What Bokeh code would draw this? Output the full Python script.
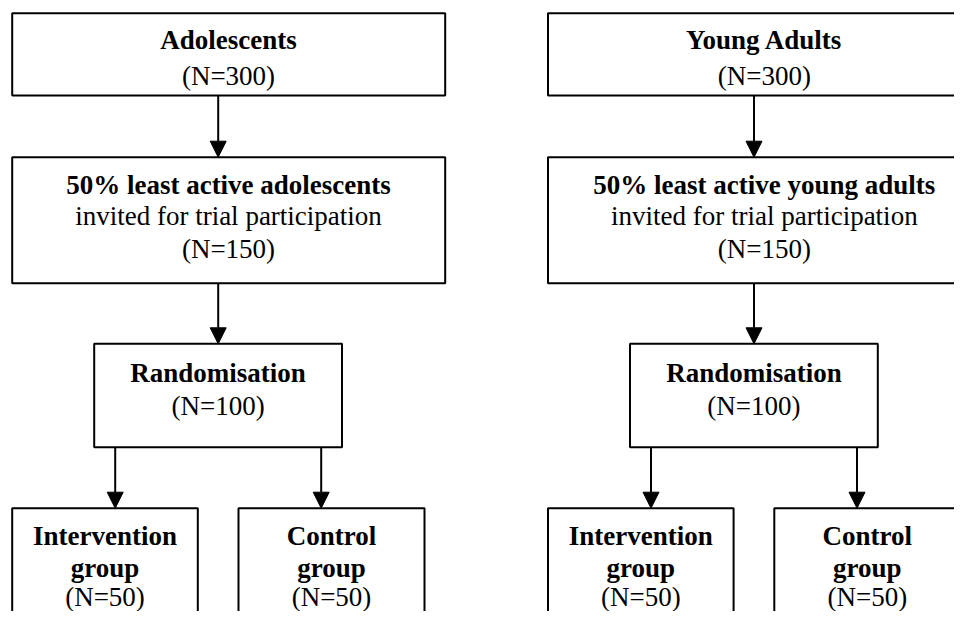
from bokeh.plotting import figure
from bokeh.models import Range1d, Arrow, NormalHead, ColumnDataSource
from bokeh.core.properties import value
from bokeh.embed import file_html
from bokeh.resources import INLINE

# ---- data (text content of the flow chart) ----
cohort_names = ["Adolescents", "Young Adults"]
cohort_n = [300, 300]
invited_titles = ["50% least active adolescents", "50% least active young adults"]
invited_subtitle = "invited for trial participation"
invited_n = [150, 150]
randomised_title = "Randomisation"
randomised_n = [100, 100]
arm_names = ["Intervention", "Control"]
arm_suffix = "group"
arm_n = [[50, 50], [50, 50]]

# ---- layout (picture pixel coordinates, left column; right column is shifted) ----
col_offset = [0.0, 535.8]
FONT = value("Liberation Serif")
FS = "27px"
W, H = 954, 611
TY = -8  # text baseline correction

p = figure(width=W, height=H, output_backend="svg", toolbar_location=None,
           x_range=Range1d(0, W), y_range=Range1d(H, 0),
           min_border=0, outline_line_color=None)
p.axis.visible = False
p.grid.visible = False
p.background_fill_color = "white"
p.border_fill_color = "white"

boxes = dict(left=[], right=[], top=[], bottom=[])
txt = dict(x=[], y=[], text=[], style=[])

def add_box(l, r, t, b):
    boxes["left"].append(l); boxes["right"].append(r)
    boxes["top"].append(t); boxes["bottom"].append(b)

def add_text(x, y, s, bold):
    txt["x"].append(x); txt["y"].append(y + TY); txt["text"].append(s)
    txt["style"].append("bold" if bold else "normal")

arrows = []
for c in range(2):
    o = col_offset[c]
    # top box
    add_box(11.7 + o, 444.7 + o, 12.7, 95)
    add_text(228 + o, 47.7, cohort_names[c], True)
    add_text(228 + o, 83.5, f"(N={cohort_n[c]})", False)
    arrows.append((217.7 + o, 95, 156.7))
    # invited box
    add_box(11.7 + o, 444.7 + o, 156.7, 282.7)
    add_text(228 + o, 192.7, invited_titles[c], True)
    add_text(228 + o, 223.5, invited_subtitle, False)
    add_text(228 + o, 256, f"(N={invited_n[c]})", False)
    arrows.append((217.7 + o, 282.7, 343.3))
    # randomisation box
    add_box(93.7 + o, 341.5 + o, 343.3, 446.7)
    add_text(217.6 + o, 380, randomised_title, True)
    add_text(217.6 + o, 413.3, f"(N={randomised_n[c]})", False)
    arrows.append((114.7 + o, 446.7, 507.7))
    arrows.append((320.7 + o, 446.7, 507.7))
    # arms
    arm_box = [(11.7, 197.3), (238, 424)]
    for a in range(2):
        l, r = arm_box[a]
        add_box(l + o, r + o, 507.7, 700)
        cx = (l + r) / 2 + o
        add_text(cx, 543.3, arm_names[a], True)
        add_text(cx, 575, arm_suffix, True)
        add_text(cx, 604.5, f"(N={arm_n[c][a]})", False)

p.quad(source=ColumnDataSource(boxes), left="left", right="right", top="top", bottom="bottom",
       fill_color=None, line_color="black", line_width=2)

for (x, y0, y1) in arrows:
    p.add_layout(Arrow(end=NormalHead(size=16, fill_color="black", line_color="black", line_width=1),
                       x_start=x, y_start=y0, x_end=x, y_end=y1,
                       line_color="black", line_width=2))

for style in ("bold", "normal"):
    idx = [i for i, s in enumerate(txt["style"]) if s == style]
    src = ColumnDataSource(dict(x=[txt["x"][i] for i in idx], y=[txt["y"][i] for i in idx],
                                text=[txt["text"][i] for i in idx]))
    p.text(x="x", y="y", text="text", source=src, text_font=FONT, text_font_size=FS,
           text_font_style=style, text_align="center", text_baseline="alphabetic",
           text_color="black")

open("out.html", "w").write(file_html(p, INLINE))
